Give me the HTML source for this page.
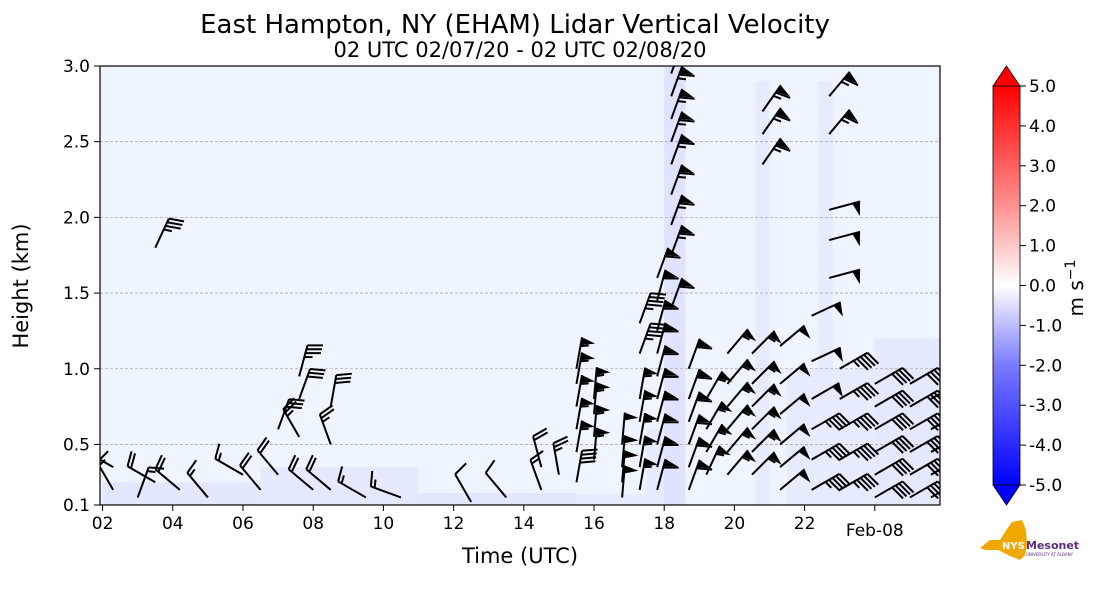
<!DOCTYPE html>
<html><head><meta charset="utf-8">
<style>
body{margin:0;background:#fff;font-family:"Liberation Sans","DejaVu Sans",sans-serif;}
svg text{font-family:"DejaVu Sans","Liberation Sans",sans-serif;}
</style></head>
<body>
<svg id="chart" width="1101" height="600" viewBox="0 0 1101 600" xmlns="http://www.w3.org/2000/svg">
<defs>
<linearGradient id="cbar" x1="0" y1="1" x2="0" y2="0">
<stop offset="0" stop-color="#0000ff"/><stop offset="0.3" stop-color="#7a7aff"/>
<stop offset="0.5" stop-color="#ffffff"/><stop offset="0.7" stop-color="#ff9090"/><stop offset="1" stop-color="#ff0000"/>
</linearGradient>
<clipPath id="plotclip"><rect x="100" y="66" width="840" height="439"/></clipPath>
</defs>
<text x="515" y="33" font-size="26" text-anchor="middle">East Hampton, NY (EHAM) Lidar Vertical Velocity</text>
<text x="520" y="57" font-size="21" text-anchor="middle">02 UTC 02/07/20 - 02 UTC 02/08/20</text>
<rect x="100" y="66" width="840" height="439" fill="#eef5fe"/>
<g id="fills" clip-path="url(#plotclip)"></g>
<g id="grid"></g>
<g id="barbs" clip-path="url(#plotclip)"></g>
<rect x="100" y="66" width="840" height="439" fill="none" stroke="#000" stroke-width="1.2"/>
<g id="xaxis"></g>
<g id="yaxis"></g>
<text x="520" y="563" font-size="21" text-anchor="middle">Time (UTC)</text>
<text x="28" y="286" font-size="21" text-anchor="middle" transform="rotate(-90 28 286)">Height (km)</text>
<g>
<rect x="993" y="86" width="27" height="399" fill="url(#cbar)" stroke="#000" stroke-width="0.8"/>
<polygon points="993,86 1020,86 1006.5,66" fill="#ff0000" stroke="#000" stroke-width="0.8"/>
<polygon points="993,485 1020,485 1006.5,505" fill="#0000ff" stroke="#000" stroke-width="0.8"/>
<g id="cbticks"></g>
<text x="1083" y="288" font-size="20" text-anchor="middle" transform="rotate(-90 1083 288)">m s<tspan dy="-8" font-size="14">−1</tspan></text>
</g>
<g>
<path d="M980,548 L990,540 L1000,540 L1005,532 L1012,522 L1022,520 L1026,530 L1027,545 L1025,555 L1020,560 L1010,556 L998,550 L985,550 Z" fill="#f0a800"/>
<text x="1002" y="549" font-size="10" fill="#fff" font-weight="bold" font-family="Liberation Sans">NYS</text>
<text x="1026" y="549" font-size="11" fill="#5a2d82" font-weight="bold" font-family="Liberation Sans">Mesonet</text>
<text x="1026" y="556" font-size="4" fill="#5a2d82" font-family="Liberation Sans">UNIVERSITY AT ALBANY</text>
</g>
</svg>
<script>
const xTickHours=[0,2,4,6,8,10,12,14,16,18,20,22];
const xTickLabels=["02","04","06","08","10","12","14","16","18","20","22","Feb-08"];
const yTicks=[0.1,0.5,1.0,1.5,2.0,2.5,3.0];
const yTickLabels=["0.1","0.5","1.0","1.5","2.0","2.5","3.0"];
const cbTicks=[-5,-4,-3,-2,-1,0,1,2,3,4,5];
const barbT=[0.3,0.3,1.0,1.5,1.5,2.2,3.0,4.0,4.5,5.0,5.0,5.6,5.6,5.6,6.0,6.5,6.5,6.5,7.5,8.5,10.5,11.5,12.5,12.5,13.0,
13.5,13.5,13.5,13.5,13.5,13.5,14.0,14.0,14.0,14.0,14.8,14.8,14.8,14.8,15.3,15.3,15.3,15.3,15.3,15.3,15.3,
15.8,15.8,15.8,15.8,15.8,15.8,15.8,15.8,15.8,15.8,16.2,16.2,16.2,16.2,16.2,16.2,16.2,16.2,16.2,
16.7,16.7,16.7,16.7,16.7,16.7,17.2,17.2,17.2,17.2,17.8,17.8,17.8,17.8,17.8,17.8,
18.5,18.5,18.5,18.5,18.5,18.5,18.8,18.8,18.8,19.3,19.3,19.3,19.3,19.3,19.3,
20.2,20.2,20.2,20.2,20.2,20.2,20.7,20.7,20.7,20.7,20.7,21.0,21.0,21.0,21.0,21.0,
22.0,22.0,22.0,22.0,22.0,22.0,23.0,23.0,23.0,23.0,23.0,23.0,23.6,23.6,23.6,23.6,23.6];
const barbH=[0.2,0.35,0.15,1.8,0.25,0.2,0.15,0.3,0.2,0.6,0.3,0.95,0.8,0.55,0.2,0.75,0.5,0.2,0.15,0.15,0.12,0.15,0.2,0.35,0.3,
0.25,0.45,0.6,0.75,0.9,1.0,0.4,0.55,0.7,0.8,0.15,0.25,0.35,0.5,0.2,0.35,0.5,0.65,0.8,1.1,1.3,
0.2,0.35,0.5,0.65,0.8,0.95,1.1,1.25,1.45,1.6,1.75,1.95,2.15,2.35,2.5,2.65,2.8,2.95,1.4,
0.2,0.35,0.5,0.65,0.8,1.0,0.3,0.45,0.6,0.8,0.3,0.45,0.6,0.75,0.9,1.1,
0.3,0.45,0.6,0.75,0.9,1.1,2.35,2.55,2.7,0.2,0.35,0.5,0.7,0.9,1.15,
0.2,0.4,0.6,0.8,1.05,1.35,1.6,1.85,2.05,2.55,2.8,0.2,0.4,0.6,0.8,1.0,
0.15,0.3,0.45,0.6,0.75,0.9,0.15,0.3,0.45,0.6,0.75,0.9,0.15,0.3,0.45,0.6,0.8];
const barbSpd=[15,10,15,35,20,20,15,15,20,30,20,35,30,25,20,30,25,20,15,15,10,10,15,20,25,
40,55,55,55,55,55,55,55,55,55,50,50,50,50,55,55,55,55,55,45,45,
60,60,60,60,60,60,60,60,60,60,65,65,65,65,65,65,65,65,60,
60,60,60,60,60,60,55,55,55,55,55,55,55,55,55,55,
55,55,55,55,55,55,65,65,65,50,50,50,50,50,50,
45,45,45,50,50,50,50,50,50,65,65,45,45,45,45,45,
40,40,40,40,40,40,40,40,40,40,40,40,35,35,35,35,35];
const barbDir=[330,300,20,25,300,310,320,300,320,20,320,15,20,330,310,10,340,310,300,290,330,320,340,345,350,
10,10,10,10,10,10,5,5,5,5,5,5,5,5,10,10,10,10,10,20,20,
15,15,15,15,15,15,15,15,15,20,20,20,20,20,20,20,20,20,20,
20,20,20,20,20,20,25,30,30,30,40,40,40,40,40,40,
45,45,45,45,45,45,35,35,35,50,50,50,50,50,50,
60,60,60,60,65,65,75,75,75,40,40,60,60,60,60,60,
60,60,60,60,60,60,60,60,60,60,60,60,60,60,60,60,60];
const patchT0=[0,2,4.5,9,13.5,15.5,16.0,18.6,20.4,19.5,22.0];
const patchT1=[2,4.5,9,13.5,15.5,16.5,16.6,19.0,20.8,22.0,23.85];
const patchTop=[0.25,0.25,0.35,0.18,0.17,0.6,3.0,2.9,2.9,1.0,1.2];
const patchVal=[-0.4,-0.35,-0.3,-0.35,-0.25,-0.25,-0.5,-0.25,-0.25,-0.25,-0.3];

const NS="http://www.w3.org/2000/svg";
const X0=102.6,PXH=35.1,YB=505,PXK=(505-66)/2.9;
const xs=h=>X0+h*PXH;
const ys=k=>YB-(k-0.1)*PXK;
const cy=v=>485-(v+5)*39.9;
function mk(tag,attrs,parent){const e=document.createElementNS(NS,tag);for(const k in attrs)e.setAttribute(k,attrs[k]);parent.appendChild(e);return e;}
function velColor(v){const t=Math.min(1,Math.abs(v)/5);const c=Math.round(255*(1-t));return v<0?`rgb(${Math.round(238-t*150)},${Math.round(242-t*150)},255)`:`rgb(255,${c},${c})`;}

const fills=document.getElementById('fills');
for(let i=0;i<patchT0.length;i++){
  const r=mk('rect',{x:xs(patchT0[i]),y:ys(patchTop[i]),width:xs(patchT1[i])-xs(patchT0[i]),height:YB-ys(patchTop[i]),fill:velColor(patchVal[i])},fills);
  
  
}
const grid=document.getElementById('grid');
for(let i=1;i<yTicks.length-1;i++){
  const l=mk('line',{x1:100,x2:940,y1:ys(yTicks[i]),y2:ys(yTicks[i]),stroke:'#aaa','stroke-dasharray':'3,2','stroke-width':0.8},grid);
  
  
}
const xa=document.getElementById('xaxis');
xTickHours.forEach((h,i)=>{
  mk('line',{x1:xs(h),x2:xs(h),y1:505,y2:511,stroke:'#000'},xa);
  const t=mk('text',{x:xs(h),y:i===xTickLabels.length-1?536:529,'font-size':17,'text-anchor':'middle'},xa);
  t.textContent=xTickLabels[i];
  
  
});
const ya=document.getElementById('yaxis');
yTicks.forEach((k,i)=>{
  mk('line',{x1:94,x2:100,y1:ys(k),y2:ys(k),stroke:'#000'},ya);
  const t=mk('text',{x:90,y:ys(k)+6,'font-size':17,'text-anchor':'end'},ya);
  t.textContent=yTickLabels[i];
  
  
});
const cbt=document.getElementById('cbticks');
cbTicks.forEach(v=>{
  mk('line',{x1:1020,x2:1026,y1:cy(v),y2:cy(v),stroke:'#000'},cbt);
  const t=mk('text',{x:1029,y:cy(v)+6,'font-size':17},cbt);
  t.textContent=v.toFixed(1);
  
  
});
const bg=document.getElementById('barbs');
for(let i=0;i<barbT.length;i++){
  const x=xs(barbT[i]),y=ys(barbH[i]),d=barbDir[i]*Math.PI/180;
  const ux=Math.sin(d),uy=-Math.cos(d),px=Math.cos(d),py=Math.sin(d);
  const L=32,g=mk('g',{},bg);
  
  
  const tx=x+ux*L,ty=y+uy*L;
  mk('line',{x1:x,y1:y,x2:tx,y2:ty,stroke:'#000','stroke-width':2},g);
  let s=Math.round(barbSpd[i]/5)*5,pos=0;
  const pt=p=>[tx-ux*p,ty-uy*p];
  while(s>=50){const [ax,ay]=pt(pos),[bx,by]=pt(pos+8);
    mk('polygon',{points:`${ax},${ay} ${bx},${by} ${ax+px*14-ux*4},${ay+py*14-uy*4}`,fill:'#000'},g);pos+=9;s-=50;}
  while(s>=10){const [ax,ay]=pt(pos);
    mk('line',{x1:ax,y1:ay,x2:ax+px*15+ux*4,y2:ay+py*15+uy*4,stroke:'#000','stroke-width':2},g);pos+=4;s-=10;}
  if(s>=5){if(pos===0)pos=4;const [ax,ay]=pt(pos);
    mk('line',{x1:ax,y1:ay,x2:ax+px*8+ux*2,y2:ay+py*8+uy*2,stroke:'#000','stroke-width':2},g);}
}
</script>
</body></html>
